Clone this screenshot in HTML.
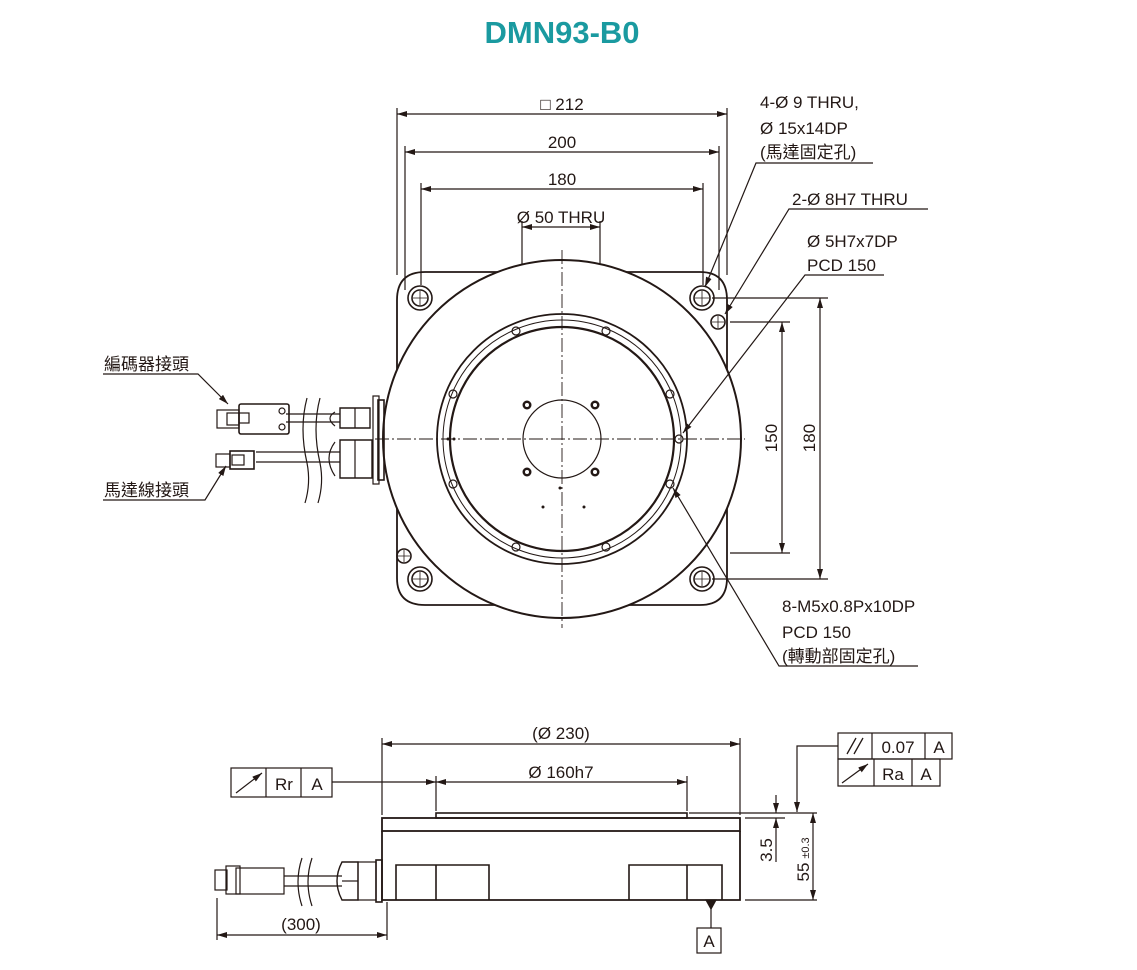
<!DOCTYPE html>
<html><head><meta charset="utf-8"><style>
body{margin:0;background:#fff;}
svg{display:block}
text{font-family:"Liberation Sans","Noto Sans CJK TC",sans-serif;fill:#231815;font-size:17px}
</style></head><body>
<svg width="1137" height="970" viewBox="0 0 1137 970" xmlns="http://www.w3.org/2000/svg">
<defs>
<marker id="a" viewBox="0 0 10 6" refX="10" refY="3" markerWidth="10" markerHeight="6" orient="auto-start-reverse" markerUnits="userSpaceOnUse"><path d="M0,0L10,3L0,6z" fill="#231815"/></marker>
</defs>
<text x="562" y="43" text-anchor="middle" style="font-size:31px;font-weight:bold;fill:#1a9aa0">DMN93-B0</text>
<g stroke="#231815" fill="none" stroke-width="1.2">
<!-- top dims -->
<line x1="397" y1="108" x2="397" y2="275"/><line x1="727" y1="108" x2="727" y2="275"/>
<line x1="397" y1="114" x2="727" y2="114" marker-start="url(#a)" marker-end="url(#a)"/>
<line x1="405" y1="146" x2="405" y2="290"/><line x1="719" y1="146" x2="719" y2="290"/>
<line x1="405" y1="152" x2="719" y2="152" marker-start="url(#a)" marker-end="url(#a)"/>
<line x1="421" y1="183" x2="421" y2="285"/><line x1="703" y1="183" x2="703" y2="285"/>
<line x1="421" y1="189" x2="703" y2="189" marker-start="url(#a)" marker-end="url(#a)"/>
<line x1="522" y1="221" x2="522" y2="440"/><line x1="600" y1="221" x2="600" y2="440"/>
<line x1="522" y1="227" x2="600" y2="227" marker-start="url(#a)" marker-end="url(#a)"/>
<!-- plate -->
<path d="M425,272 H700 Q727,272 727,300 V578 Q727,605 700,605 H425 Q397,605 397,578 V300 Q397,272 425,272Z" stroke-width="1.8"/>
<circle cx="562" cy="439" r="179" fill="#fff" stroke-width="2"/>
<circle cx="562" cy="439" r="125" stroke-width="1.8"/>
<circle cx="562" cy="439" r="119" stroke-width="1"/>
<circle cx="562" cy="439" r="112" stroke-width="2.2"/>
<circle cx="562" cy="439" r="39"/>
<!-- center lines -->
<line x1="562" y1="250" x2="562" y2="628" stroke-dasharray="14,3,2,3" stroke-width="0.9"/>
<line x1="375" y1="439" x2="745" y2="439" stroke-dasharray="14,3,2,3" stroke-width="0.9"/>
<!-- corner holes -->
<g stroke-width="1.6">
<circle cx="420" cy="298" r="12"/><circle cx="420" cy="298" r="8"/>
<circle cx="702" cy="298" r="12"/><circle cx="702" cy="298" r="8"/>
<circle cx="420" cy="579" r="12"/><circle cx="420" cy="579" r="8"/>
<circle cx="702" cy="579" r="12"/><circle cx="702" cy="579" r="8"/>
<circle cx="718" cy="322" r="7"/><circle cx="404" cy="556" r="7"/>
</g>
<path d="M413,298h14M420,291v14M695,298h14M702,291v14M413,579h14M420,572v14M695,579h14M702,572v14M712,322h12M718,316v12M398,556h12M404,550v12" stroke-width="0.8"/>
<!-- bolt holes r=118 -->
<g stroke-width="1.2">
<circle cx="516" cy="331" r="4"/><circle cx="606" cy="331" r="4"/>
<circle cx="453" cy="394" r="4"/><circle cx="670" cy="394" r="4"/>
<circle cx="453" cy="484" r="4"/><circle cx="670" cy="484" r="4"/>
<circle cx="516" cy="547" r="4"/><circle cx="606" cy="547" r="4"/>
<circle cx="679" cy="439" r="4"/>
</g>
<g fill="#231815" stroke="none">
<circle cx="527" cy="405" r="4.5"/><circle cx="595" cy="405" r="4.5"/>
<circle cx="527" cy="472" r="4.5"/><circle cx="595" cy="472" r="4.5"/>
<circle cx="560" cy="488" r="1.5"/><circle cx="543" cy="507" r="1.5"/><circle cx="584" cy="507" r="1.5"/>
<circle cx="448" cy="439" r="1.5"/><circle cx="454" cy="439" r="1.5"/>
</g>
<g fill="#fff" stroke="none"><circle cx="527" cy="405" r="2"/><circle cx="595" cy="405" r="2"/><circle cx="527" cy="472" r="2"/><circle cx="595" cy="472" r="2"/></g>
<!-- right dims -->
<line x1="730" y1="322" x2="790" y2="322"/><line x1="730" y1="553" x2="790" y2="553"/>
<line x1="782" y1="322" x2="782" y2="553" marker-start="url(#a)" marker-end="url(#a)"/>
<line x1="712" y1="298" x2="828" y2="298"/><line x1="712" y1="579" x2="828" y2="579"/>
<line x1="820" y1="298" x2="820" y2="579" marker-start="url(#a)" marker-end="url(#a)"/>
<!-- leaders -->
<path d="M873,163H756L705,287" marker-end="url(#a)"/>
<path d="M928,209H789L725,314" marker-end="url(#a)"/>
<path d="M884,275H805L683,433" marker-end="url(#a)"/>
<path d="M918,666H779L673,488" marker-end="url(#a)"/>
<path d="M103,374H198L228,404" marker-end="url(#a)"/>
<path d="M103,500H205L226,466" marker-end="url(#a)"/>
<!-- cables / connectors top -->
<rect x="378" y="400" width="6" height="80" stroke-width="1.6"/>
<rect x="373" y="396" width="6" height="88"/>
<path d="M340,408h30v20h-30z M340,440h32v38h-32z" stroke-width="1.4"/>
<path d="M335,412q-10,6 0,14M335,442q-12,16 0,34M355,408v20M355,440v38"/>
<line x1="286" y1="414" x2="340" y2="414"/><line x1="286" y1="422" x2="340" y2="422"/>
<line x1="256" y1="452" x2="340" y2="452"/><line x1="256" y1="462" x2="340" y2="462"/>
<path d="M307,398q-8,30 0,65q4,20 -2,40M320,398q-8,30 0,65q4,20 -2,40"/>
<rect x="239" y="404" width="50" height="30" rx="2" stroke-width="1.6"/>
<circle cx="282" cy="411" r="3"/><circle cx="282" cy="427" r="3"/>
<rect x="217" y="410" width="22" height="18"/><rect x="227" y="413" width="12" height="12"/><rect x="239" y="413" width="10" height="10"/>
<rect x="216" y="454" width="14" height="13"/><rect x="230" y="451" width="24" height="18" stroke-width="1.6"/><rect x="232" y="455" width="12" height="10"/>
<!-- side view -->
<line x1="382" y1="738" x2="382" y2="815"/><line x1="740" y1="738" x2="740" y2="815"/>
<line x1="382" y1="744" x2="740" y2="744" marker-start="url(#a)" marker-end="url(#a)"/>
<line x1="436" y1="776" x2="436" y2="811"/><line x1="687" y1="776" x2="687" y2="811"/>
<line x1="436" y1="782" x2="687" y2="782" marker-start="url(#a)" marker-end="url(#a)"/>
<line x1="332" y1="782" x2="436" y2="782" marker-end="url(#a)"/>
<rect x="436" y="813" width="251" height="5" stroke-width="1.6"/>
<rect x="382" y="818" width="358" height="13" stroke-width="1.8"/>
<path d="M382,831V900H740V831" stroke-width="1.8"/>
<path d="M396,900V865h93v35M436,865v35M629,900V865h93v35M687,865v35" stroke-width="1.6"/>
<path d="M689,813H817M745,818H785M745,900H817"/>
<line x1="776" y1="795" x2="776" y2="813" marker-end="url(#a)"/>
<line x1="776" y1="834" x2="776" y2="818" marker-end="url(#a)"/>
<line x1="776" y1="834" x2="776" y2="862"/>
<line x1="813" y1="813" x2="813" y2="900" marker-start="url(#a)" marker-end="url(#a)"/>
<path d="M838,746H797V812" marker-end="url(#a)"/>
<line x1="711" y1="900" x2="711" y2="928"/>
<path d="M706,900h10l-5,9z" fill="#231815"/>
<rect x="697" y="928" width="24" height="25"/>
<!-- side connectors -->
<rect x="376" y="860" width="6" height="42" stroke-width="1.6"/><rect x="358" y="862" width="18" height="38"/>
<path d="M342,862h16v38h-16q-10,-19 0,-38z" stroke-width="1.4"/><line x1="342" y1="881" x2="358" y2="881"/>
<line x1="284" y1="876" x2="342" y2="876"/><line x1="284" y1="886" x2="342" y2="886"/>
<path d="M302,858q-8,24 0,48M312,858q-8,24 0,48"/>
<rect x="236" y="868" width="48" height="26"/><rect x="226" y="866" width="14" height="28"/><rect x="215" y="870" width="12" height="20"/>
<line x1="217" y1="898" x2="217" y2="940"/><line x1="387" y1="902" x2="387" y2="940"/>
<line x1="217" y1="935" x2="387" y2="935" marker-start="url(#a)" marker-end="url(#a)"/>
<!-- feature boxes -->
<rect x="231" y="768" width="101" height="29"/><line x1="266" y1="768" x2="266" y2="797"/><line x1="301" y1="768" x2="301" y2="797"/>
<path d="M236,793L262,773" marker-end="url(#a)"/>
<rect x="838" y="733" width="114" height="26"/><line x1="872" y1="733" x2="872" y2="759"/><line x1="925" y1="733" x2="925" y2="759"/>
<path d="M838,759H940V786H838z"/><line x1="874" y1="759" x2="874" y2="786"/><line x1="912" y1="759" x2="912" y2="786"/>
<path d="M842,783L868,764" marker-end="url(#a)"/>
<path d="M847,754L856,738M854,754L863,738" stroke-width="1.3"/>
</g>
<!-- texts -->
<text x="562" y="110" text-anchor="middle">□ 212</text>
<text x="562" y="148" text-anchor="middle">200</text>
<text x="562" y="185" text-anchor="middle">180</text>
<text x="561" y="223" text-anchor="middle">Ø  50 THRU</text>
<text x="760" y="108">4-Ø  9 THRU,</text>
<text x="760" y="134">Ø  15x14DP</text>
<text x="760" y="158">(馬達固定孔)</text>
<text x="792" y="205">2-Ø  8H7 THRU</text>
<text x="807" y="247">Ø  5H7x7DP</text>
<text x="807" y="271">PCD 150</text>
<text x="782" y="612">8-M5x0.8Px10DP</text>
<text x="782" y="638">PCD 150</text>
<text x="782" y="662">(轉動部固定孔)</text>
<text x="104" y="370">編碼器接頭</text>
<text x="104" y="496">馬達線接頭</text>
<text transform="translate(777,438) rotate(-90)" text-anchor="middle">150</text>
<text transform="translate(815,438) rotate(-90)" text-anchor="middle">180</text>
<text x="561" y="739" text-anchor="middle">(Ø  230)</text>
<text x="561" y="778" text-anchor="middle">Ø  160h7</text>
<text x="284" y="790" text-anchor="middle">Rr</text>
<text x="317" y="790" text-anchor="middle">A</text>
<text x="898" y="753" text-anchor="middle">0.07</text>
<text x="939" y="753" text-anchor="middle">A</text>
<text x="893" y="780" text-anchor="middle">Ra</text>
<text x="926" y="780" text-anchor="middle">A</text>
<text transform="translate(772,850) rotate(-90)" text-anchor="middle">3.5</text>
<text transform="translate(809,872) rotate(-90)" text-anchor="middle">55</text>
<text transform="translate(809,848) rotate(-90)" text-anchor="middle" style="font-size:11px">±0.3</text>
<text x="301" y="930" text-anchor="middle">(300)</text>
<text x="709" y="947" text-anchor="middle">A</text>
</svg>
</body></html>
